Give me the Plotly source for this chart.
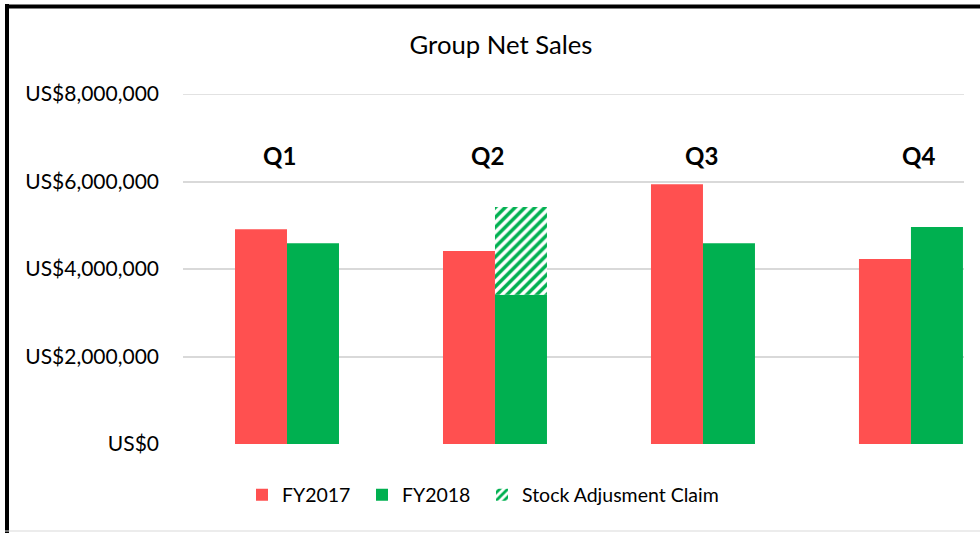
import plotly.graph_objects as go

quarters = ["Q1", "Q2", "Q3", "Q4"]
fy2017 = [4910000, 4410000, 5940000, 4230000]
fy2018 = [4590000, 3410000, 4590000, 4960000]
stock_claim = [0, 2010000, 0, 0]
label_height = 6600000
y_ticks = [0, 2000000, 4000000, 6000000, 8000000]
y_tick_labels = ["US$0", "US$2,000,000", "US$4,000,000", "US$6,000,000", "US$8,000,000"]

RED = "#FF5050"
GREEN = "#00B050"
GRID = "#D9D9D9"
FONT = "Lato, 'Open Sans', sans-serif"

W, H = 980, 533
L, R, T, B = 183, 964, 94, 444

idx = list(range(len(quarters)))
off = 0.125
x17 = [i - off for i in idx]
x18 = [i + off for i in idx]

fig = go.Figure()
fig.add_trace(go.Bar(x=x17, y=fy2017, name="FY2017", width=0.25, legend="legend",
                     marker=dict(color=RED, line=dict(width=0))))
fig.add_trace(go.Bar(x=x18, y=fy2018, name="FY2018", width=0.25, legend="legend2",
                     marker=dict(color=GREEN, line=dict(width=0))))
fig.add_trace(go.Bar(x=x18, y=stock_claim, base=fy2018, name="Stock Adjusment Claim", width=0.25,
                     legend="legend3",
                     marker=dict(color="white", line=dict(width=0),
                                 pattern=dict(shape="/", fgcolor=GREEN, bgcolor="white",
                                              size=7, solidity=0.5, fillmode="replace"))))

label_offsets = [-0.034, -0.034, -0.005, 0.038]
for i, q in enumerate(quarters):
    fig.add_annotation(x=i + label_offsets[i], y=label_height, text=f"<b>{q}</b>",
                       showarrow=False, font=dict(size=24, color="black", family=FONT))

def px(xp):
    return (xp - L) / (R - L)
def py(yp):
    return (B - yp) / (B - T)

# top gridline (at the range edge)
fig.add_shape(type="line", xref="paper", yref="y", x0=0, x1=1, y0=y_ticks[-1], y1=y_ticks[-1],
              line=dict(color=GRID, width=1.5), layer="below")

# frame lines (left and top thick black, bottom thin gray)
fig.add_shape(type="line", xref="paper", yref="paper", x0=px(7), x1=px(7), y0=py(4), y1=py(533),
              line=dict(color="black", width=4))
fig.add_shape(type="line", xref="paper", yref="paper", x0=px(5), x1=px(980), y0=py(6.5), y1=py(6.5),
              line=dict(color="black", width=4))
fig.add_shape(type="line", xref="paper", yref="paper", x0=px(5), x1=px(980), y0=py(531), y1=py(531),
              line=dict(color=GRID, width=1))

def leg(xp):
    return dict(orientation="h", x=px(xp), xanchor="left", y=py(495), yanchor="middle",
                font=dict(size=19.5, color="black", family=FONT), bgcolor="rgba(0,0,0,0)")

fig.update_layout(
    width=W, height=H,
    margin=dict(l=L, r=W - R, t=T, b=H - B),
    paper_bgcolor="white", plot_bgcolor="white",
    font=dict(family=FONT, color="black"),
    title=dict(text="Group Net Sales", x=501 / W, xanchor="center", y=1 - 45 / H, yanchor="middle",
               font=dict(size=25.7, color="black", family=FONT)),
    barmode="overlay",
    showlegend=True,
    legend=leg(242),
    legend2=leg(362),
    legend3=leg(482),
    xaxis=dict(range=[-0.5, 3.255], showticklabels=False, showgrid=False, zeroline=False,
               showline=False, ticks=""),
    yaxis=dict(range=[0, 8000000], tickvals=y_ticks, ticktext=y_tick_labels,
               showgrid=True, gridcolor=GRID, gridwidth=1.5, zeroline=False,
               showline=False, ticks="", ticklabelstandoff=23,
               tickfont=dict(size=21, color="black")),
)

fig.write_html("out.html", config={"displayModeBar": False},
               post_script="document.body.style.margin='0';")
